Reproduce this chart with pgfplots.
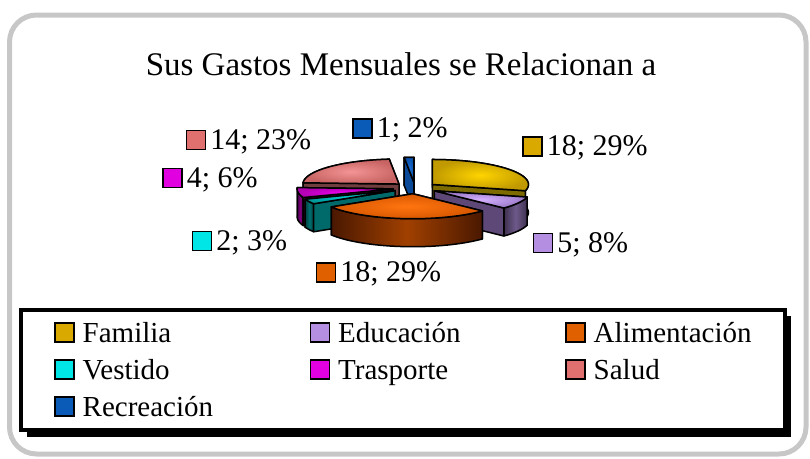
\documentclass[border=0pt]{standalone}
\usepackage{pgfplots}
\pgfplotsset{compat=1.18}
\usepackage{fontspec}
\setmainfont{Liberation Serif}
% colours
\definecolor{famT}{HTML}{C09A00}\definecolor{famI}{HTML}{FFD400}\definecolor{famW}{HTML}{5A4A00}\definecolor{famM}{HTML}{8A7400}\definecolor{famF}{HTML}{7D6A00}\definecolor{famL}{HTML}{D9A900}
\definecolor{eduT}{HTML}{9A78C8}\definecolor{eduI}{HTML}{D4B0FF}\definecolor{eduW}{HTML}{3E3050}\definecolor{eduM}{HTML}{6E5A8A}\definecolor{eduF}{HTML}{5E4878}\definecolor{eduL}{HTML}{B48EE0}
\definecolor{aliT}{HTML}{D85800}\definecolor{aliI}{HTML}{FF7410}\definecolor{aliW}{HTML}{4A1800}\definecolor{aliM}{HTML}{A04000}\definecolor{aliF}{HTML}{7A2C00}\definecolor{aliL}{HTML}{E06000}
\definecolor{vesT}{HTML}{009898}\definecolor{vesI}{HTML}{00D0D0}\definecolor{vesW}{HTML}{003E3E}\definecolor{vesM}{HTML}{007070}\definecolor{vesF}{HTML}{006A6A}\definecolor{vesL}{HTML}{00E5E5}
\definecolor{traT}{HTML}{B000B0}\definecolor{traI}{HTML}{F000F0}\definecolor{traW}{HTML}{4A004A}\definecolor{traM}{HTML}{800080}\definecolor{traF}{HTML}{660066}\definecolor{traL}{HTML}{E000E0}
\definecolor{salT}{HTML}{C86464}\definecolor{salI}{HTML}{F49494}\definecolor{salW}{HTML}{4E2828}\definecolor{salM}{HTML}{7A4848}\definecolor{salF}{HTML}{703E3E}\definecolor{salL}{HTML}{E07070}
\definecolor{recT}{HTML}{0A50A8}\definecolor{recI}{HTML}{1A70D8}\definecolor{recW}{HTML}{062E60}\definecolor{recM}{HTML}{0A4A98}\definecolor{recF}{HTML}{0A4A98}\definecolor{recL}{HTML}{0A5AB8}
% data
\def\vFam{18}\def\vEdu{5}\def\vAli{18}\def\vVes{2}\def\vTra{4}\def\vSal{14}\def\vRec{1}
% geometry (pixel units)
\def\CX{415}\def\CY{188}\def\RX{96}\def\RY{25}\def\H{28}\def\EX{0.23}
\newcommand\topface[3]{%
\addplot[forget plot, #3, draw=black, line width=1.5pt, line join=round, variable=\t, domain=-1:31, samples=33]
 ({\CX+\EX*\RX*cos(((#1)+(#2))/2) + ((\t < -0.5 || \t > 30.5) ? 0 : \RX*cos((#1)+((#2)-(#1))*\t/30))},
  {\CY-\EX*\RY*sin(((#1)+(#2))/2) - ((\t < -0.5 || \t > 30.5) ? 0 : \RY*sin((#1)+((#2)-(#1))*\t/30))}) -- cycle;}
\newcommand\wallface[3]{%
\addplot[forget plot, #3, draw=black, line width=1.5pt, line join=round, variable=\t, domain=0:61, samples=62]
 ({\CX+\EX*\RX*cos(((#1)+(#2))/2) + \RX*cos((\t < 30.5) ? ((#1)+((#2)-(#1))*\t/30) : ((#2)-((#2)-(#1))*(\t-31)/30))},
  {\CY-\EX*\RY*sin(((#1)+(#2))/2) - \RY*sin((\t < 30.5) ? ((#1)+((#2)-(#1))*\t/30) : ((#2)-((#2)-(#1))*(\t-31)/30)) + ((\t > 30.5) ? \H : 0)}) -- cycle;}
\newcommand\radface[4]{%
\addplot[forget plot, fill=#4, draw=black, line width=1.5pt, line join=round, variable=\t, domain=0:3, samples=4]
 ({\CX+\EX*\RX*cos(((#1)+(#2))/2) + ((\t > 0.5 && \t < 2.5) ? \RX*cos(#3) : 0)},
  {\CY-\EX*\RY*sin(((#1)+(#2))/2) - ((\t > 0.5 && \t < 2.5) ? \RY*sin(#3) : 0) + ((\t > 1.5) ? \H : 0)}) -- cycle;}
\newcommand\lab[4]{%
\addplot[forget plot, only marks, mark=square*, mark size=9.5pt, mark options={fill=#3, draw=black, line width=1.5pt},
 nodes near coords={#4}, nodes near coords style={anchor=base west, font=\fontsize{30}{36}\selectfont, text=black, inner sep=0pt, xshift=13.5pt, yshift=-9pt}]
 coordinates {(#1,#2)};}
\begin{document}%
\begin{tikzpicture}
\pgfmathsetmacro\tot{\vFam+\vEdu+\vAli+\vVes+\vTra+\vSal+\vRec}
\pgfmathsetmacro\aO{90}
\pgfmathsetmacro\aA{\aO-360*\vFam/\tot}
\pgfmathsetmacro\aB{\aA-360*\vEdu/\tot}
\pgfmathsetmacro\aC{\aB-360*\vAli/\tot}
\pgfmathsetmacro\aD{\aC-360*\vVes/\tot}
\pgfmathsetmacro\aE{\aD-360*\vTra/\tot}
\pgfmathsetmacro\aF{\aE-360*\vSal/\tot}
\pgfmathsetmacro\aG{\aF-360*\vRec/\tot}
\begin{axis}[hide axis, scale only axis, width=810pt, height=458pt,
  xmin=0, xmax=810, ymin=0, ymax=458, y dir=reverse, clip=false,
  legend columns=3, legend cell align=left,
  legend image code/.code={\draw[#1, draw=black, line width=1.5pt] (0pt,0pt) rectangle (19pt,19pt);},
  legend style={draw=none, fill=none, inner sep=0pt, at={(axis cs:54,321)}, anchor=north west,
    font=\fontsize{29}{34}\selectfont, cells={anchor=base west},
    nodes={inner sep=0pt, text height=21pt, text depth=7pt}, row sep=9pt,
    /tikz/every odd column/.append style={column sep=8pt}}]
% frames
\path (axis cs:0,0) rectangle (axis cs:810,458);
\draw[rounded corners=27pt, line width=5pt, color=black!22] (axis cs:9.5,15) rectangle (axis cs:806,454);
\fill[black] (axis cs:27,316) rectangle (axis cs:791,437);
\draw[fill=white, draw=black, line width=4pt] (axis cs:21,310) rectangle (axis cs:785,430);
% title
\node[anchor=base, font=\fontsize{33}{40}\selectfont] at (axis cs:401,75) {Sus Gastos Mensuales se Relacionan a};
% pie, back to front
% Recreacion
\radface{\aG}{\aF}{\aG}{recF}
\wallface{\aG}{\aF}{fill=recW}
\radface{\aG}{\aF}{\aF}{recF}
\topface{\aG}{\aF}{inner color=recI, outer color=recT}
% Salud
\radface{\aF}{\aE}{\aF}{salF}
\wallface{\aF}{\aE}{left color=salW, right color=salW, middle color=salM}
\radface{\aF}{\aE}{\aE}{salF}
\topface{\aF}{\aE}{inner color=salI, outer color=salT}
% Familia
\radface{\aA}{\aO}{\aO}{famF}
\wallface{\aA}{\aO}{left color=famW, right color=famW, middle color=famM}
\radface{\aA}{\aO}{\aA}{famF}
\topface{\aA}{\aO}{inner color=famI, outer color=famT}
% Trasporte
\radface{\aE}{\aD}{\aE}{traF}
\wallface{\aE}{\aD}{left color=traW, right color=traW, middle color=traM}
\radface{\aE}{\aD}{\aD}{traF}
\topface{\aE}{\aD}{inner color=traI, outer color=traT}
% Vestido
\radface{\aD}{\aC}{\aD}{vesF}
\wallface{\aD}{\aC}{left color=vesW, right color=vesW, middle color=vesM}
\radface{\aD}{\aC}{\aC}{vesF}
\topface{\aD}{\aC}{inner color=vesI, outer color=vesT}
% Educacion
\radface{\aB}{\aA}{\aA}{eduF}
\wallface{\aB}{\aA}{left color=eduW, right color=eduW, middle color=eduM}
\radface{\aB}{\aA}{\aB}{eduF}
\topface{\aB}{\aA}{inner color=eduI, outer color=eduT}
% Alimentacion
\radface{\aC}{\aB}{\aC}{aliF}
\radface{\aC}{\aB}{\aB}{aliF}
\wallface{\aC}{\aB}{left color=aliW, right color=aliW, middle color=aliM}
\topface{\aC}{\aB}{inner color=aliI, outer color=aliT}
% data labels
\lab{362.5}{128.5}{recL}{1; 2\%}
\lab{532.5}{146.5}{famL}{18; 29\%}
\lab{196}{140}{salL}{14; 23\%}
\lab{172.5}{178}{traL}{4; 6\%}
\lab{202}{241}{vesL}{2; 3\%}
\lab{326}{272.5}{aliL}{18; 29\%}
\lab{543}{243}{eduL}{5; 8\%}
% legend
\addlegendimage{fill=famL}\addlegendentry{\makebox[227pt][l]{Familia}}
\addlegendimage{fill=eduL}\addlegendentry{\makebox[227pt][l]{Educación}}
\addlegendimage{fill=aliL}\addlegendentry{Alimentación}
\addlegendimage{fill=vesL}\addlegendentry{\makebox[227pt][l]{Vestido}}
\addlegendimage{fill=traL}\addlegendentry{\makebox[227pt][l]{Trasporte}}
\addlegendimage{fill=salL}\addlegendentry{Salud}
\addlegendimage{fill=recL}\addlegendentry{\makebox[227pt][l]{Recreación}}
\end{axis}
\end{tikzpicture}%
\end{document}
